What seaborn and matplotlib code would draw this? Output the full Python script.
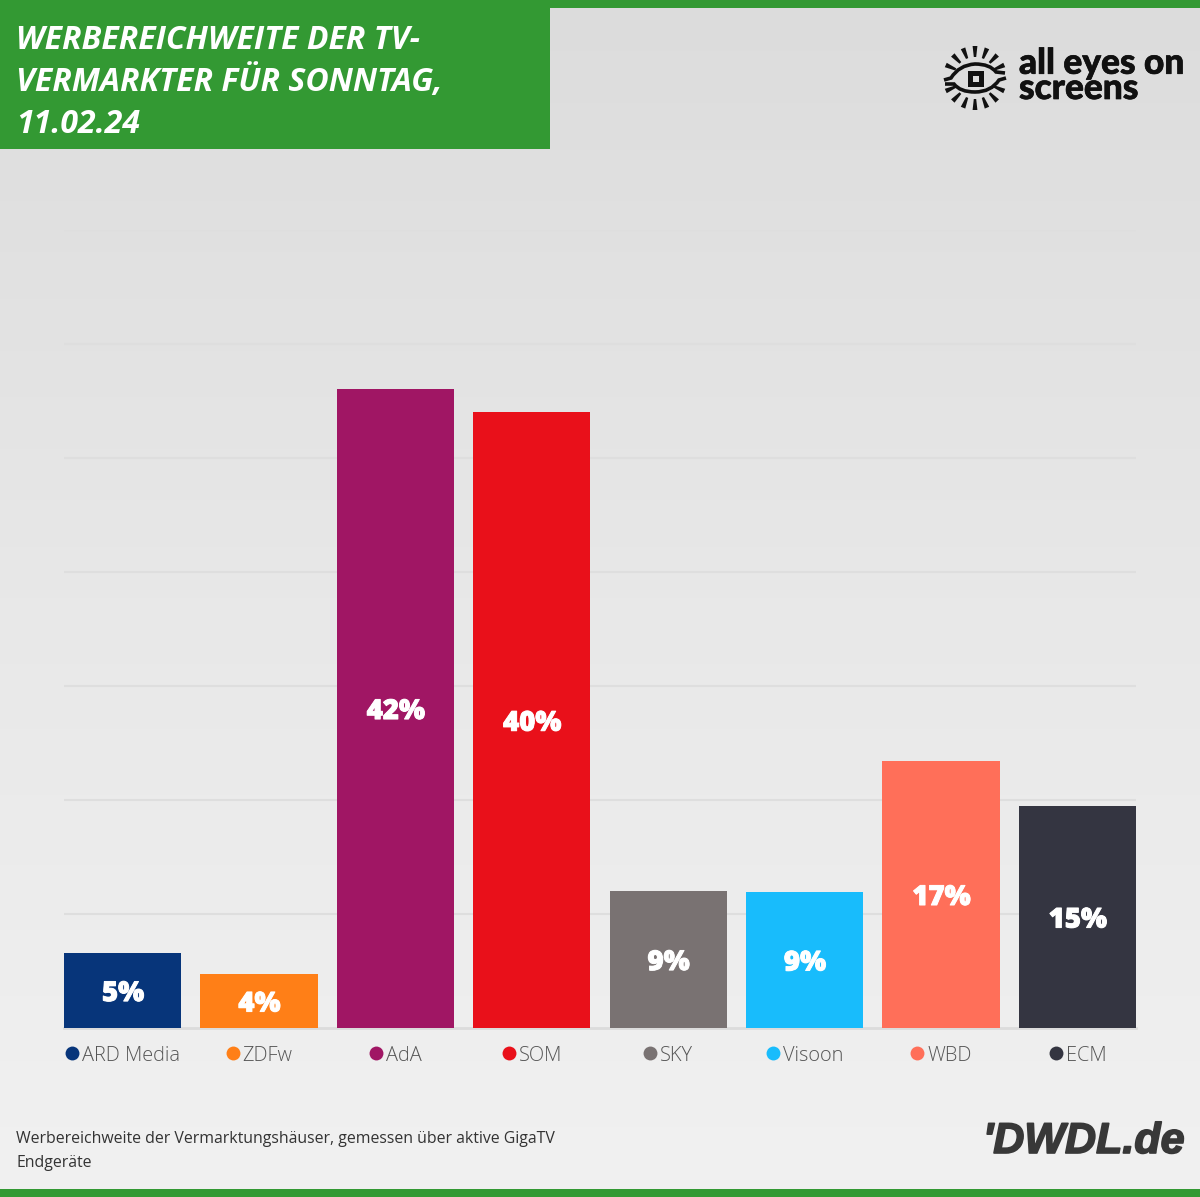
import numpy as np
import pandas as pd
import seaborn as sns
import matplotlib.pyplot as plt
import matplotlib.patheffects as pe
from matplotlib.patches import Rectangle, PathPatch, Polygon
from matplotlib.path import Path

marketers = ['ARD Media', 'ZDFw', 'AdA', 'SOM', 'SKY', 'Visoon', 'WBD', 'ECM']
reach = [4.93, 3.55, 42.04, 40.5, 9.01, 8.95, 17.57, 14.6]
reach_labels = ['5%', '4%', '42%', '40%', '9%', '9%', '17%', '15%']
colors = ['#07357a', '#ff7f17', '#a01664', '#e9101a', '#797272', '#18bcfc', '#ff6f59', '#343541']
grid_ticks = [7.5, 15, 22.5, 30, 37.5, 45, 52.5]

title_lines = ['WERBEREICHWEITE DER TV-', 'VERMARKTER FÜR SONNTAG,', '11.02.24']
footer_lines = ['Werbereichweite der Vermarktungshäuser, gemessen über aktive GigaTV', 'Endgeräte']

GREEN = '#339933'
INK = '#111111'
W, H = 1200, 1197

sns.set_theme(style='white')
plt.rcParams['font.family'] = ['Open Sans', 'DejaVu Sans']

fig = plt.figure(figsize=(W / 100, H / 100), dpi=100)

# background gradient, header and footer live on a pixel-sized axes
bg = fig.add_axes([0, 0, 1, 1], zorder=0)
bg.imshow(np.linspace(0, 1, 256).reshape(-1, 1), cmap=sns.blend_palette(['#dcdcdc', '#e8e8e8', '#f1f1f1'], as_cmap=True),
          extent=[0, W, H, 0], aspect='auto')
bg.set_xlim(0, W)
bg.set_ylim(H, 0)
bg.axis('off')

ax = fig.add_axes([64 / W, 1 - 1028 / H, (1136 - 64) / W, (1028 - 230) / H], zorder=1)
ax.patch.set_alpha(0)
df = pd.DataFrame({'marketer': marketers, 'reach': reach})
sns.barplot(data=df, x='marketer', y='reach', hue='marketer', palette=colors, legend=False,
            width=0.859, saturation=1, linewidth=0, ax=ax, zorder=3)
ax.set_xlim(-0.43, 7.43)
ax.set_ylim(0, 52.5)
ax.set_xlabel('')
ax.set_ylabel('')
ax.set_yticks(grid_ticks)
ax.set_yticklabels([])
ax.set_xticks(range(len(marketers)))
ax.set_xticklabels([])
ax.tick_params(length=0)
ax.grid(axis='y', color='#dedede', linewidth=1.5, zorder=0)
ax.set_axisbelow(True)
sns.despine(ax=ax, left=True, top=True, right=True)
ax.spines['bottom'].set_color('#dcdcdc')
ax.spines['bottom'].set_linewidth(2)

for i, (v, lab) in enumerate(zip(reach, reach_labels)):
    ax.annotate(lab, (i, v / 2), xytext=(0.3, -2.2), textcoords='offset points', ha='center', va='center',
                color='white', fontsize=19.8, fontweight=800, zorder=5,
                path_effects=[pe.withStroke(linewidth=0.7, foreground='white')])

# overlay in pixel coordinates
top = fig.add_axes([0, 0, 1, 1], zorder=2)
top.set_xlim(0, W)
top.set_ylim(H, 0)
top.axis('off')
top.patch.set_alpha(0)

top.add_patch(Rectangle((0, 0), W, 8, color=GREEN, lw=0))
top.add_patch(Rectangle((0, 0), 550, 149, color=GREEN, lw=0))
top.add_patch(Rectangle((0, 1189), W, 8, color=GREEN, lw=0))

for line, y in zip(title_lines, [49, 91, 133]):
    top.text(16, y, line, color='white', fontsize=23, fontweight='bold', style='italic', va='baseline')

# legend dots and names under the bars, centred as a block
renderer = fig.canvas.get_renderer()
for i, name in enumerate(marketers):
    cx = ax.transData.transform((i, 0))[0]
    t = top.text(cx, 1061, name, color='#555555', fontsize=14.4, fontweight=300, va='baseline', ha='left')
    tw = t.get_window_extent(renderer).width
    left = cx - (tw + 18) / 2 + 17.5
    t.set_x(left)
    top.scatter([left - 10], [1053], s=100, color=colors[i], linewidths=0)

for line, y in zip(footer_lines, [1143, 1167]):
    top.text(16, y, line, color='#333333', fontsize=11.47, va='baseline')

# DWDL wordmark
top.text(983, 1153, "'DWDL.de", color='#383838', fontsize=31, fontweight='bold', style='italic',
         family=['Liberation Sans', 'DejaVu Sans'], va='baseline',
         path_effects=[pe.withStroke(linewidth=1.2, foreground='#383838')])

# all eyes on screens logo, rays are small wedges around the eye
ex, ey = 975, 78
for ang in [24, 46, 68, 90, 112, 134, 156, -156, -134, -112, -90, -68, -46, -24]:
    a = np.radians(ang)
    ux, uy = np.cos(a), -np.sin(a)
    nx, ny = -uy, ux
    inner, outer = 21, 32
    top.add_patch(Polygon([(ex + inner * ux - 1.2 * nx, ey + inner * uy - 1.2 * ny),
                           (ex + inner * ux + 1.2 * nx, ey + inner * uy + 1.2 * ny),
                           (ex + outer * ux + 2.4 * nx, ey + outer * uy + 2.4 * ny),
                           (ex + outer * ux - 2.4 * nx, ey + outer * uy - 2.4 * ny)],
                          fc=INK, ec='none'))
codes = [Path.MOVETO, Path.LINETO, Path.CURVE3, Path.CURVE3, Path.CURVE3, Path.CURVE3, Path.LINETO]
upper = Path([(944, 80), (951, 78), (959, 65), (975, 64), (990, 64), (996, 72), (1005, 73)], codes)
lower = Path([(1006, 78), (999, 80), (991, 92), (975, 92), (960, 92), (954, 84), (945, 84)], codes)
for p in [upper, lower]:
    top.add_patch(PathPatch(p, fc='none', ec=INK, lw=2.6))
top.add_patch(Rectangle((969.5, 72.5), 11, 11, fc='none', ec=INK, lw=3.6))

# one text block, the two lines sit tighter than the font's own line height
top.text(1019, 99, 'all eyes on\nscreens', color=INK, fontsize=25.4, fontweight='black',
         family=['Lato', 'DejaVu Sans'], va='baseline', linespacing=0.74,
         path_effects=[pe.withStroke(linewidth=0.5, foreground=INK)])

fig.savefig('out.png', dpi=100)
